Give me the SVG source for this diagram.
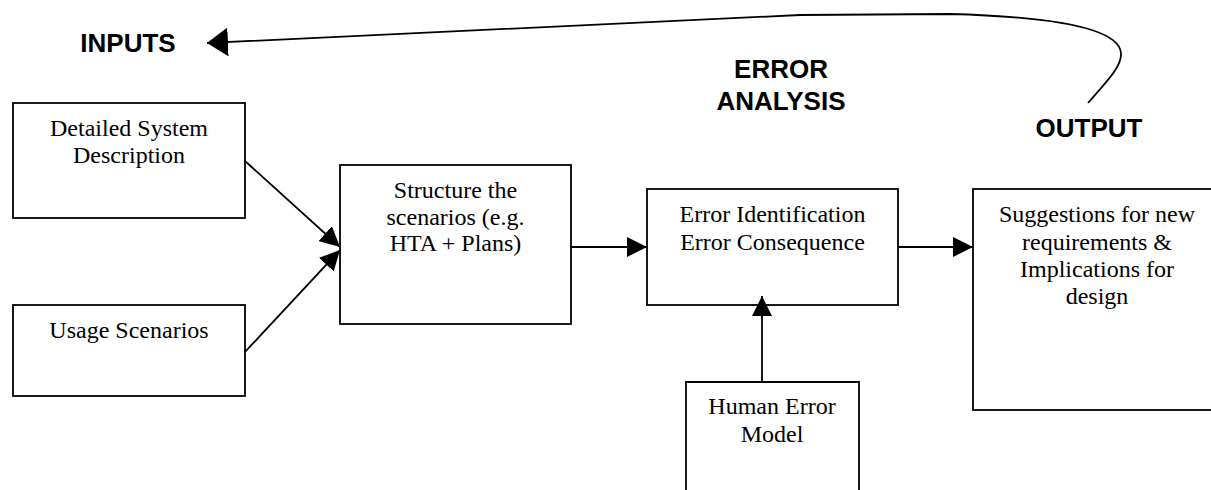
<svg xmlns="http://www.w3.org/2000/svg" width="1211" height="490" viewBox="0 0 1211 490">
<style>
.box{fill:none;stroke:#000;stroke-width:1.8}
.t{font-family:"Liberation Serif","Times New Roman",serif;font-size:24px;fill:#000;text-anchor:middle}
.h{font-family:"Liberation Sans",Arial,sans-serif;font-size:26px;font-weight:bold;fill:#000;text-anchor:middle}
.c{fill:none;stroke:#000;stroke-width:1.8}
</style>
<defs>
<marker id="ah" markerUnits="userSpaceOnUse" markerWidth="20" markerHeight="20" viewBox="0 0 20 20" refX="20" refY="10" orient="auto"><path d="M0,0 L20,10 L0,20 z" fill="#000"/></marker>
<marker id="ahBig" markerUnits="userSpaceOnUse" markerWidth="21" markerHeight="29" viewBox="0 0 21 29" refX="21" refY="14.5" orient="auto"><path d="M0,0 L21,14.5 L0,29 z" fill="#000"/></marker>
</defs>
<rect width="1211" height="490" fill="#fff"/>
<text class="h" x="128" y="52">INPUTS</text>
<text class="h" x="781" y="78">ERROR</text>
<text class="h" x="781" y="110">ANALYSIS</text>
<text class="h" x="1089" y="137">OUTPUT</text>
<g id="n-detailed">
<rect class="box" x="13" y="103" width="232" height="115"/>
<text class="t" x="129" y="136">Detailed System</text>
<text class="t" x="129" y="163">Description</text>
</g>
<g id="n-usage">
<rect class="box" x="13" y="305" width="232" height="91"/>
<text class="t" x="129" y="338">Usage Scenarios</text>
</g>
<g id="n-structure">
<rect class="box" x="340" y="165" width="231" height="159"/>
<text class="t" x="455.5" y="198">Structure the</text>
<text class="t" x="455.5" y="225">scenarios (e.g.</text>
<text class="t" x="455.5" y="251">HTA + Plans)</text>
</g>
<g id="n-error">
<rect class="box" x="647" y="189" width="251" height="116"/>
<text class="t" x="772.5" y="222">Error Identification</text>
<text class="t" x="772.5" y="250">Error Consequence</text>
</g>
<g id="n-suggestions">
<rect class="box" x="973" y="189" width="250" height="221"/>
<text class="t" x="1097" y="222">Suggestions for new</text>
<text class="t" x="1097" y="249.5">requirements &amp;</text>
<text class="t" x="1097" y="277">Implications for</text>
<text class="t" x="1097" y="304">design</text>
</g>
<g id="n-human">
<path class="box" d="M686 492 V382 H859 V492"/>
<text class="t" x="772" y="414">Human Error</text>
<text class="t" x="772" y="442">Model</text>
</g>
<g id="connectors">
<line class="c" x1="245" y1="161" x2="340" y2="247" marker-end="url(#ah)"/>
<line class="c" x1="245" y1="352" x2="340" y2="250" marker-end="url(#ah)"/>
<line class="c" x1="571" y1="247" x2="647" y2="247" marker-end="url(#ah)"/>
<line class="c" x1="898" y1="247" x2="973" y2="247" marker-end="url(#ah)"/>
<line class="c" x1="762" y1="382" x2="762" y2="296" marker-end="url(#ah)"/>
<path class="c" d="M1088 103 C1108 80 1122 66 1121 53 C1119 30 1060 17 950 14 L800 15 L207 43" marker-end="url(#ahBig)"/>
</g>
</svg>
